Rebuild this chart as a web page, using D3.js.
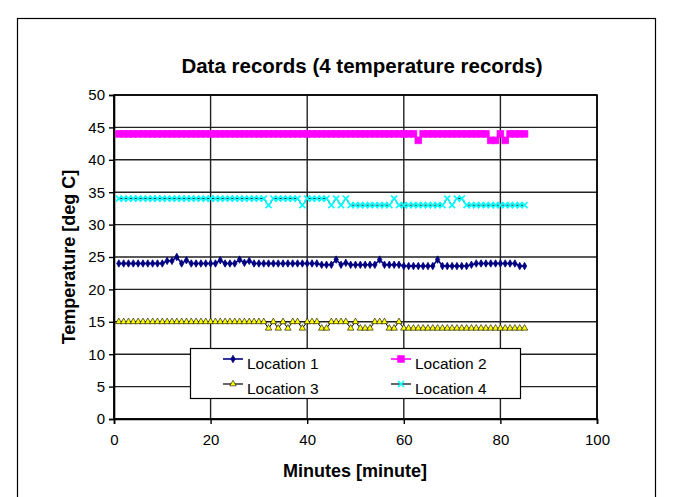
<!DOCTYPE html>
<html>
<head>
<meta charset="utf-8">
<script src="https://cdn.jsdelivr.net/npm/d3@7"></script>
<style>
  body { margin: 0; background: #fff; }
  svg { display: block; font-family: "Liberation Sans", Arial, sans-serif; }
</style>
</head>
<body>
<div id="chart"></div>
<script>
// minutes of each record
const minutes = [1,2,3,4,5,6,7,8,9,10,11,12,13,14,15,16,17,18,19,20,
  21,22,23,24,25,26,27,28,29,30,31,32,33,34,35,36,37,38,39,40,
  41,42,43,44,45,46,47,48,49,50,51,52,53,54,55,56,57,58,59,60,
  61,62,63,64,65,66,67,68,69,70,71,72,73,74,75,76,77,78,79,80,
  81,82,83,84,85];

const location1 = [24,24,24,24,24,24,24,24,24,24,
  24.4,24.4,25,24,24.5,24,24,24,24,24,
  24,24.5,24,24,24,24.6,24.1,24.4,24,24,
  24,24,24,24,24,24,24,24,24,24,
  24,24,23.8,23.8,23.8,24.6,23.8,24.1,23.8,23.8,
  23.8,23.8,23.8,23.8,24.6,23.8,23.8,23.8,23.8,23.6,
  23.6,23.6,23.6,23.6,23.6,23.6,24.6,23.6,23.6,23.6,
  23.6,23.6,23.6,23.8,24,24,24,24,24,24,
  24,24,24,23.6,23.6];

const location2 = [44,44,44,44,44,44,44,44,44,44,
  44,44,44,44,44,44,44,44,44,44,
  44,44,44,44,44,44,44,44,44,44,
  44,44,44,44,44,44,44,44,44,44,
  44,44,44,44,44,44,44,44,44,44,
  44,44,44,44,44,44,44,44,44,44,
  44,44,43,44,44,44,44,44,44,44,
  44,44,44,44,44,44,44,43,43,44,
  43,44,44,44,44];

const location3 = [15,15,15,15,15,15,15,15,15,15,
  15,15,15,15,15,15,15,15,15,15,
  15,15,15,15,15,15,15,15,15,15,
  15,14,15,14,15,14,15,15,14,15,
  15,15,14,14,15,15,15,15,14,15,
  14,14,14,15,15,15,14,14,15,14,
  14,14,14,14,14,14,14,14,14,14,
  14,14,14,14,14,14,14,14,14,14,
  14,14,14,14,14];

const location4 = [34,34,34,34,34,34,34,34,34,34,
  34,34,34,34,34,34,34,34,34,34,
  34,34,34,34,34,34,34,34,34,34,
  34,33,34,34,34,34,34,34,33,34,
  34,34,34,34,33,34,33,34,33,33,
  33,33,33,33,33,33,33,34,33,33,
  33,33,33,33,33,33,33,33,34,33,
  34,34,33,33,33,33,33,33,33,33,
  33,33,33,33,33];

const seriesNames = ["Location 1", "Location 2", "Location 3", "Location 4"];
const xTicks = [0, 20, 40, 60, 80, 100];
const yTicks = [0, 5, 10, 15, 20, 25, 30, 35, 40, 45, 50];

const W = 674, H = 497;
const plot = { left: 114, right: 597, top: 95, bottom: 419 };

const svg = d3.select("#chart").append("svg")
  .attr("width", W).attr("height", H);

// chart area border
svg.append("rect")
  .attr("x", 17.5).attr("y", 18.5)
  .attr("width", 638).attr("height", 500)
  .attr("fill", "#fff").attr("stroke", "#000").attr("stroke-width", 1.2);

const x = d3.scaleLinear().domain([0, 100]).range([plot.left, plot.right]);
const y = d3.scaleLinear().domain([0, 50]).range([plot.bottom, plot.top]);

// gridlines
svg.append("g").selectAll("line").data(yTicks)
  .join("line")
  .attr("x1", plot.left).attr("x2", plot.right)
  .attr("y1", d => y(d)).attr("y2", d => y(d))
  .attr("stroke", "#222").attr("stroke-width", 1.4);

svg.append("g").selectAll("line").data(xTicks)
  .join("line")
  .attr("x1", d => x(d)).attr("x2", d => x(d))
  .attr("y1", plot.top).attr("y2", plot.bottom)
  .attr("stroke", "#222").attr("stroke-width", 1.4);

// plot frame
svg.append("rect")
  .attr("x", plot.left).attr("y", plot.top)
  .attr("width", plot.right - plot.left).attr("height", plot.bottom - plot.top)
  .attr("fill", "none").attr("stroke", "#000").attr("stroke-width", 1.6);

// axes
const yAxis = d3.axisLeft(y).tickValues(yTicks).tickSize(5).tickPadding(4);
const gy = svg.append("g").attr("transform", `translate(${plot.left},0)`).call(yAxis);
const xAxis = d3.axisBottom(x).tickValues(xTicks).tickSize(5).tickPadding(10);
const gx = svg.append("g").attr("transform", `translate(0,${plot.bottom})`).call(xAxis);
[gx, gy].forEach(g => {
  g.select(".domain").attr("stroke", "#000").attr("stroke-width", 1.6);
  g.selectAll(".tick line").attr("stroke", "#000").attr("stroke-width", 1.4);
  g.selectAll("text").attr("font-size", 15).attr("fill", "#000")
    .attr("font-family", "Liberation Sans, Arial, sans-serif");
});

// series
const rows = minutes.map((m, i) => ({
  m, v: [location1[i], location2[i], location3[i], location4[i]]
}));

const lineColors = ["#000080", "#ff00ff", "#000000", "#000000"];
const markFill = ["#000080", "#ff00ff", "#ffff00", "#00ffff"];

const sym = [
  d3.symbol().type(d3.symbolDiamond).size(16),
  d3.symbol().type(d3.symbolSquare).size(44),
  d3.symbol().type(d3.symbolTriangle).size(18),
  null
];

function drawMarker(g, k, cx, cy) {
  if (k === 3) {
    const s = 3;
    g.append("path")
      .attr("d", `M${cx - s},${cy - s}L${cx + s},${cy + s}M${cx - s},${cy + s}L${cx + s},${cy - s}`)
      .attr("stroke", markFill[3]).attr("stroke-width", 1.6).attr("fill", "none");
  } else {
    g.append("path")
      .attr("d", sym[k]())
      .attr("transform", `translate(${cx},${cy})`)
      .attr("fill", markFill[k])
      .attr("stroke", k === 2 ? "#000" : markFill[k])
      .attr("stroke-width", k === 2 ? 0.6 : 0.8);
  }
}

seriesNames.forEach((name, k) => {
  const line = d3.line().x(d => x(d.m)).y(d => y(d.v[k]));
  const g = svg.append("g");
  g.append("path").datum(rows)
    .attr("d", line)
    .attr("fill", "none")
    .attr("stroke", lineColors[k])
    .attr("stroke-width", k < 2 ? 1.6 : 1);
  rows.forEach(d => drawMarker(g, k, x(d.m), y(d.v[k])));
});

// legend
const leg = svg.append("g");
leg.append("rect")
  .attr("x", 190.5).attr("y", 348.5).attr("width", 330).attr("height", 50)
  .attr("fill", "#fff").attr("stroke", "#000").attr("stroke-width", 1.2);
const legPos = [[223, 359], [391, 359], [223, 384], [391, 384]];
seriesNames.forEach((name, k) => {
  const [lx, ly] = legPos[k];
  leg.append("line")
    .attr("x1", lx).attr("x2", lx + 20).attr("y1", ly).attr("y2", ly)
    .attr("stroke", lineColors[k]).attr("stroke-width", k < 2 ? 1.6 : 1.2);
  drawMarker(leg, k, lx + 10, ly);
  leg.append("text")
    .attr("x", lx + 24).attr("y", ly + 10)
    .attr("font-size", 15.5).attr("fill", "#000")
    .text(name);
});

// titles
svg.append("text")
  .attr("x", 362).attr("y", 73)
  .attr("text-anchor", "middle")
  .attr("font-size", 20.5).attr("font-weight", "bold")
  .text("Data records (4 temperature records)");

svg.append("text")
  .attr("x", 355).attr("y", 477)
  .attr("text-anchor", "middle")
  .attr("font-size", 18).attr("font-weight", "bold")
  .text("Minutes [minute]");

svg.append("text")
  .attr("transform", `translate(75,${(plot.top + plot.bottom) / 2}) rotate(-90)`)
  .attr("text-anchor", "middle")
  .attr("font-size", 18).attr("font-weight", "bold")
  .text("Temperature [deg C]");
</script>
</body>
</html>
